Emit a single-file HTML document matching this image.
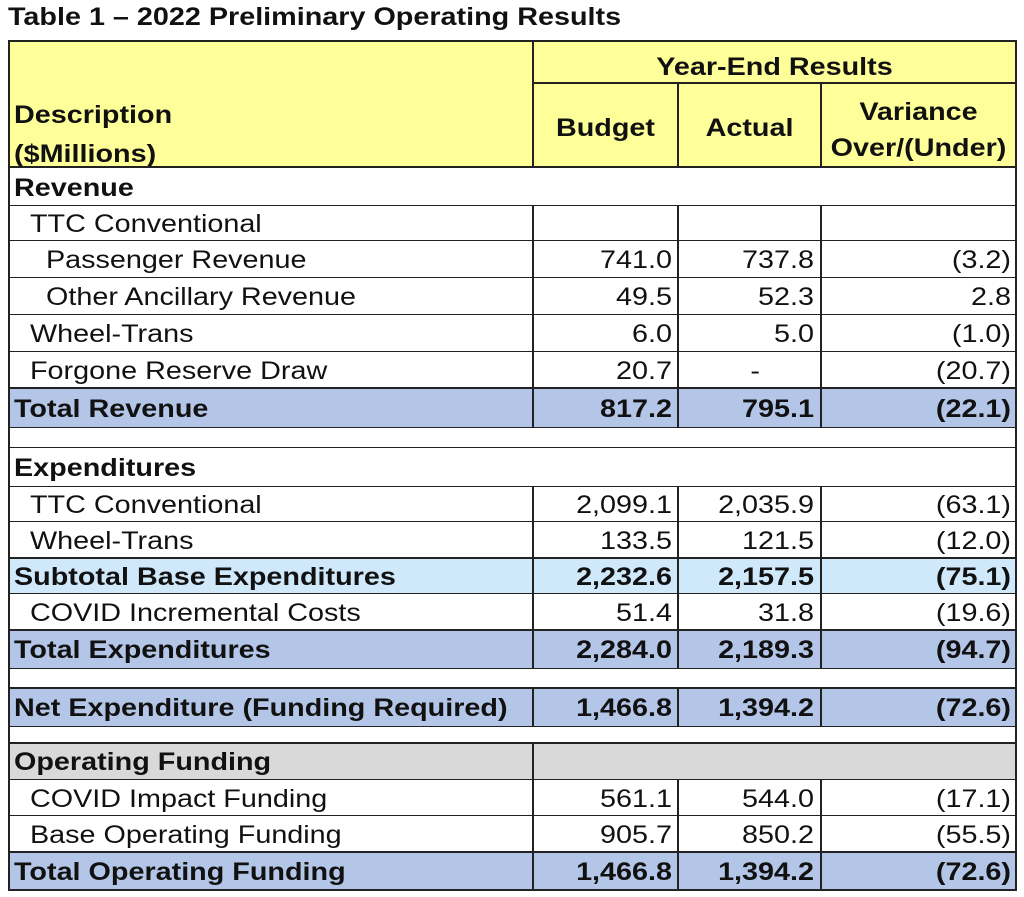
<!DOCTYPE html>
<html><head><meta charset="utf-8"><style>
body{margin:0;width:1024px;height:897px;background:#fff;position:relative;overflow:hidden;font-family:"Liberation Sans",sans-serif;color:#111}
.t{position:absolute;white-space:nowrap;font-size:25px;line-height:1;transform:scaleX(1.15);transform-origin:left center}
.b{font-weight:bold}
.bg{position:absolute}
.h{position:absolute;height:2px;background:#222}
.v{position:absolute;width:2px;background:#222}
.r{text-align:right;transform-origin:right center}
.c{transform-origin:center center}
</style></head><body>
<div class="t b" style="left:8px;top:5px;font-size:25px">Table 1 – 2022 Preliminary Operating Results</div>
<div id="c"></div>
<script>
var L=9,R=1016,X=[533,678,821];
var rows=[
[206,241,'#fff',1,'TTC Conventional',30,0,['','','']],
[241,278,'#fff',1,'Passenger Revenue',46,0,['741.0','737.8','(3.2)']],
[278,315,'#fff',1,'Other Ancillary Revenue',46,0,['49.5','52.3','2.8']],
[315,352,'#fff',1,'Wheel-Trans',30,0,['6.0','5.0','(1.0)']],
[352,388,'#fff',1,'Forgone Reserve Draw',30,0,['20.7','-','(20.7)']],
[388,428,'#b4c6e7',1,'Total Revenue',14,1,['817.2','795.1','(22.1)']],
[428,448,'#fff',0,'',0,0,null],
[448,487,'#fff',0,'Expenditures',14,1,null],
[487,522,'#fff',1,'TTC Conventional',30,0,['2,099.1','2,035.9','(63.1)']],
[522,558,'#fff',1,'Wheel-Trans',30,0,['133.5','121.5','(12.0)']],
[558,594,'#cfe9fb',1,'Subtotal Base Expenditures',14,1,['2,232.6','2,157.5','(75.1)']],
[594,630,'#fff',1,'COVID Incremental Costs',30,0,['51.4','31.8','(19.6)']],
[630,669,'#b4c6e7',1,'Total Expenditures',14,1,['2,284.0','2,189.3','(94.7)']],
[669,688,'#fff',0,'',0,0,null],
[688,727,'#b4c6e7',1,'Net Expenditure (Funding Required)',14,1,['1,466.8','1,394.2','(72.6)']],
[727,743,'#fff',0,'',0,0,null],
[743,780,'#d9d9d9',2,'Operating Funding',14,1,null],
[780,816,'#fff',1,'COVID Impact Funding',30,0,['561.1','544.0','(17.1)']],
[816,852,'#fff',1,'Base Operating Funding',30,0,['905.7','850.2','(55.5)']],
[852,890,'#b4c6e7',1,'Total Operating Funding',14,1,['1,466.8','1,394.2','(72.6)']]
];
var h='';
h+='<div class="bg" style="left:'+L+'px;top:40px;width:'+(R-L)+'px;height:127px;background:#ffff99"></div>';
h+='<div class="t b" style="left:14px;top:103px">Description</div><div class="t b" style="left:14px;top:142px">($Millions)</div>';
h+='<div class="t b c" style="left:533px;width:483px;top:55px;text-align:center">Year-End Results</div>';
h+='<div class="t b c" style="left:533px;width:145px;top:116px;text-align:center">Budget</div>';
h+='<div class="t b c" style="left:678px;width:143px;top:116px;text-align:center">Actual</div>';
h+='<div class="t b c" style="left:821px;width:195px;top:94px;text-align:center;line-height:36px">Variance<br>Over/(Under)</div>';
h+='<div class="h" style="left:533px;width:483px;top:82px"></div>';
h+='<div class="v" style="left:532px;top:40px;height:127px"></div>';
h+='<div class="v" style="left:677px;top:83px;height:84px"></div>';
h+='<div class="v" style="left:820px;top:83px;height:84px"></div>';
h+='<div class="h" style="left:'+L+'px;width:'+(R-L)+'px;top:40px"></div>';
h+='<div class="h" style="left:'+L+'px;width:'+(R-L)+'px;top:166px"></div>';
h+='<div class="t b" style="left:14px;top:176px">Revenue</div>';
h+='<div class="h" style="left:'+L+'px;width:'+(R-L)+'px;top:205px;height:1px"></div>';
rows.forEach(function(r){
 var y0=r[0],y1=r[1],ht=y1-y0;
 h+='<div class="bg" style="left:'+L+'px;top:'+y0+'px;width:'+(R-L)+'px;height:'+ht+'px;background:'+r[2]+'"></div>';
 var ty=y0+(ht-25)/2+1;
 if(r[4])h+='<div class="t'+(r[6]?' b':'')+'" style="left:'+r[5]+'px;top:'+ty+'px">'+r[4]+'</div>';
 if(r[3]==1){X.forEach(function(x){h+='<div class="v" style="left:'+(x-1)+'px;top:'+y0+'px;height:'+ht+'px"></div>';});}
 if(r[3]==2)h+='<div class="v" style="left:532px;top:'+y0+'px;height:'+ht+'px"></div>';
 if(r[7]){var ends=[672,814,1011];var st=[533,678,821];
  for(var i=0;i<3;i++){var txt=r[7][i];var e=ends[i];if(txt=='-')e=760;
   h+='<div class="t r'+(r[6]?' b':'')+'" style="left:'+st[i]+'px;width:'+(e-st[i])+'px;top:'+ty+'px">'+txt+'</div>';}}
 var thick=(r[6]&&r[7])||r[2]=='#d9d9d9';
 h+='<div class="h" style="left:'+L+'px;width:'+(R-L)+'px;top:'+(y0-1)+'px;height:'+(thick?2:1)+'px"></div>';
 h+='<div class="h" style="left:'+L+'px;width:'+(R-L)+'px;top:'+(y1-1)+'px;height:'+(thick?2:1)+'px"></div>';
});
h+='<div class="v" style="left:'+(L-1)+'px;top:40px;height:851px"></div>';
h+='<div class="v" style="left:'+(R-1)+'px;top:40px;height:851px"></div>';
document.getElementById('c').innerHTML=h;
</script>
</body></html>
